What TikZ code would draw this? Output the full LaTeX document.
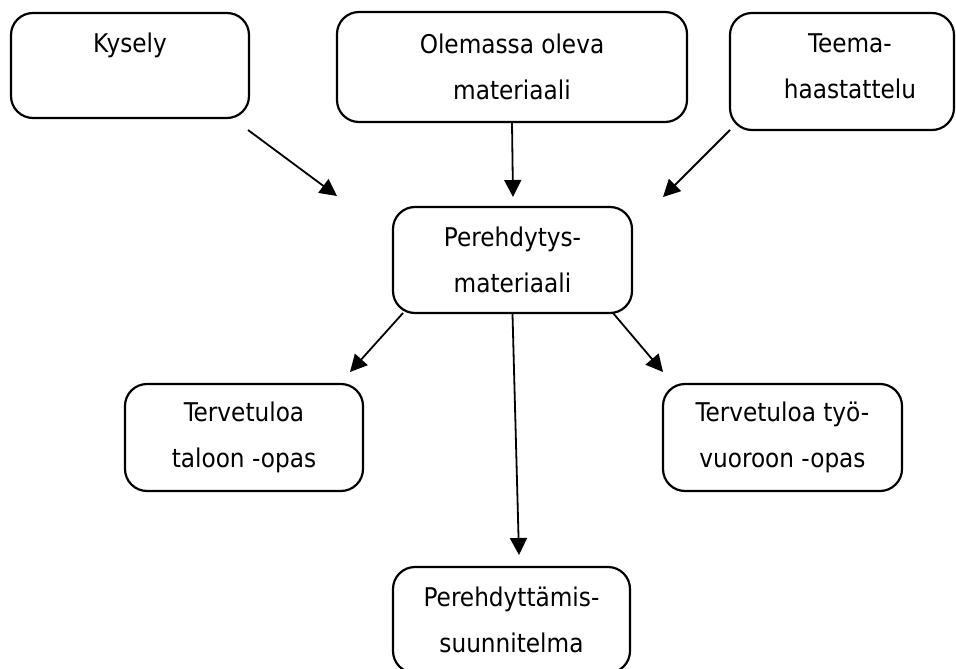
\documentclass[tikz,border=0pt]{standalone}
\usepackage{fontspec}
\setmainfont{DejaVu Sans Condensed}
\usetikzlibrary{arrows.meta, positioning}

\tikzset{
    box/.style={draw, line width=2.2pt, rounded corners=22pt, align=center,
        inner sep=0pt, font=\fontsize{25.8}{46}\selectfont},
    link/.style={->, line width=1.8pt},
}

\begin{document}
\begin{tikzpicture}[>={Triangle[length=17pt,width=17pt]}, x=1pt, y=-1pt]

        \useasboundingbox (0,0) rectangle (956,669);

        % --- sources ---
        \node[box, minimum width=238pt, minimum height=105pt] (kysely) at (130,65.5) {Kysely\\~};
        \node[box, minimum width=350pt, minimum height=110pt] (olemassa) at (512,67) {Olemassa oleva\\materiaali};
        \node[box, minimum width=224pt, minimum height=117pt] (teema) at (842,71.5)
            {\hspace*{16pt}Teema-\\\hspace*{16pt}haastattelu\rule[-10pt]{0pt}{10pt}};

        % --- centre ---
        \node[box, minimum width=239pt, minimum height=106pt] (perehdytys) at (512.5,260) {Perehdytys-\\materiaali};

        % --- results ---
        \node[box, minimum width=238pt, minimum height=107pt] (taloon) at (244,437.5) {Tervetuloa\\taloon -opas};
        \node[box, minimum width=239pt, minimum height=107pt] (vuoroon) at (782.5,437.5) {Tervetuloa työ-\\vuoroon -opas};
        \node[box, minimum width=237pt, minimum height=106pt] (suunnitelma) at (511.5,620) {Perehdyttämis-\\suunnitelma};

        % Arrow ends
        \coordinate (kysely out) at (248,130);
        \coordinate (kysely in) at (337,196);
        \coordinate (olemassa in) at (513,197);
        \coordinate (teema out) at (730,130);
        \coordinate (teema in) at (663,197);
        \coordinate (taloon out) at (403,313);
        \coordinate (taloon in) at (350,372);
        \coordinate (vuoroon out) at (613,313);
        \coordinate (vuoroon in) at (663,372);
        \coordinate (suunnitelma in) at (519,555);

        % Arrows in
        \draw[link] (kysely out) -- (kysely in);
        \draw[link] (olemassa.south) -- (olemassa in);
        \draw[link] (teema out) -- (teema in);

        % Arrows out
        \draw[link] (taloon out) -- (taloon in);
        \draw[link] (vuoroon out) -- (vuoroon in);
        \draw[link] (perehdytys.south) -- (suunnitelma in);

    \end{tikzpicture}
\end{document}
